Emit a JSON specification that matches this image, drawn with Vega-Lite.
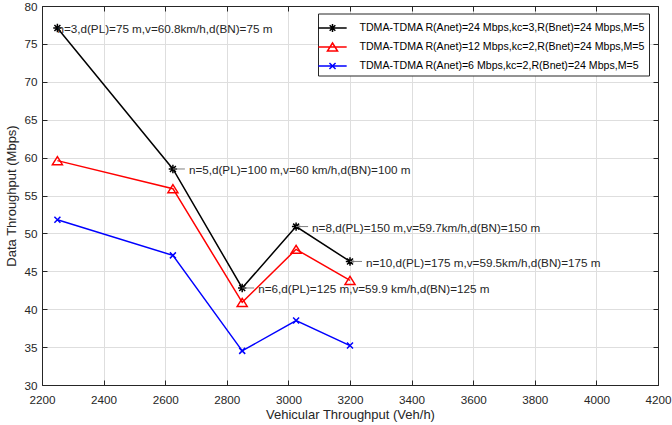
{
  "$schema": "https://vega.github.io/schema/vega-lite/v6.json",
  "width": 616,
  "height": 379,
  "autosize": {"type": "none"},
  "padding": {"left": 42, "top": 6, "right": 14, "bottom": 40},
  "background": "white",
  "config": {
    "font": "Liberation Sans",
    "view": {"stroke": "#262626", "strokeWidth": 1},
    "axis": {
      "labelFont": "Liberation Sans",
      "labelFontSize": 11.7,
      "labelColor": "#262626",
      "titleFont": "Liberation Sans",
      "titleFontSize": 13,
      "titleFontWeight": "normal",
      "titleColor": "#262626",
      "domainColor": "#262626",
      "tickColor": "#262626",
      "gridColor": "#dedede",
      "gridOpacity": 1,
      "tickSize": -5
    }
  },
  "datasets": {
    "series": [
      {"series": "TDMA-TDMA R(Anet)=24 Mbps,kc=3,R(Bnet)=24 Mbps,M=5", "x": 2250, "y": 77.1},
      {"series": "TDMA-TDMA R(Anet)=24 Mbps,kc=3,R(Bnet)=24 Mbps,M=5", "x": 2625, "y": 58.5},
      {"series": "TDMA-TDMA R(Anet)=24 Mbps,kc=3,R(Bnet)=24 Mbps,M=5", "x": 2850, "y": 42.8},
      {"series": "TDMA-TDMA R(Anet)=24 Mbps,kc=3,R(Bnet)=24 Mbps,M=5", "x": 3025, "y": 50.9},
      {"series": "TDMA-TDMA R(Anet)=24 Mbps,kc=3,R(Bnet)=24 Mbps,M=5", "x": 3200, "y": 46.3},
      {"series": "TDMA-TDMA R(Anet)=12 Mbps,kc=2,R(Bnet)=24 Mbps,M=5", "x": 2250, "y": 59.6},
      {"series": "TDMA-TDMA R(Anet)=12 Mbps,kc=2,R(Bnet)=24 Mbps,M=5", "x": 2625, "y": 55.9},
      {"series": "TDMA-TDMA R(Anet)=12 Mbps,kc=2,R(Bnet)=24 Mbps,M=5", "x": 2850, "y": 40.9},
      {"series": "TDMA-TDMA R(Anet)=12 Mbps,kc=2,R(Bnet)=24 Mbps,M=5", "x": 3025, "y": 47.9},
      {"series": "TDMA-TDMA R(Anet)=12 Mbps,kc=2,R(Bnet)=24 Mbps,M=5", "x": 3200, "y": 43.8},
      {"series": "TDMA-TDMA R(Anet)=6 Mbps,kc=2,R(Bnet)=24 Mbps,M=5", "x": 2250, "y": 51.8},
      {"series": "TDMA-TDMA R(Anet)=6 Mbps,kc=2,R(Bnet)=24 Mbps,M=5", "x": 2625, "y": 47.1},
      {"series": "TDMA-TDMA R(Anet)=6 Mbps,kc=2,R(Bnet)=24 Mbps,M=5", "x": 2850, "y": 34.5},
      {"series": "TDMA-TDMA R(Anet)=6 Mbps,kc=2,R(Bnet)=24 Mbps,M=5", "x": 3025, "y": 38.5},
      {"series": "TDMA-TDMA R(Anet)=6 Mbps,kc=2,R(Bnet)=24 Mbps,M=5", "x": 3200, "y": 35.2}
    ],
    "notes": [
      {"n": 3, "x": 2250, "y": 77.1, "label": "n=3,d(PL)=75 m,v=60.8km/h,d(BN)=75 m"},
      {"n": 5, "x": 2625, "y": 58.5, "label": "n=5,d(PL)=100 m,v=60 km/h,d(BN)=100 m"},
      {"n": 6, "x": 2850, "y": 42.8, "label": "n=6,d(PL)=125 m,v=59.9 km/h,d(BN)=125 m"},
      {"n": 8, "x": 3025, "y": 50.9, "label": "n=8,d(PL)=150 m,v=59.7km/h,d(BN)=150 m"},
      {"n": 10, "x": 3200, "y": 46.3, "label": "n=10,d(PL)=175 m,v=59.5km/h,d(BN)=175 m"}
    ]
  },
  "resolve": {"axis": {"x": "independent", "y": "independent"}},
  "layer": [
    {
      "data": {"name": "series"},
      "mark": {"type": "line", "strokeWidth": 1.5},
      "encoding": {
        "x": {
          "field": "x", "type": "quantitative",
          "scale": {"domain": [2200, 4200], "nice": false, "zero": false},
          "axis": {"orient": "bottom", "values": [2200, 2400, 2600, 2800, 3000, 3200, 3400, 3600, 3800, 4000, 4200], "format": "d", "title": "Vehicular Throughput (Veh/h)", "labelPadding": 14, "titlePadding": 3, "labelFlush": false}
        },
        "y": {
          "field": "y", "type": "quantitative",
          "scale": {"domain": [30, 80], "nice": false, "zero": false},
          "axis": {"orient": "left", "values": [30, 35, 40, 45, 50, 55, 60, 65, 70, 75, 80], "title": "Data Throughput (Mbps)", "labelPadding": 10, "titlePadding": 5, "labelFlush": false}
        },
        "color": {
          "field": "series", "type": "nominal",
          "scale": {
            "domain": ["TDMA-TDMA R(Anet)=24 Mbps,kc=3,R(Bnet)=24 Mbps,M=5", "TDMA-TDMA R(Anet)=12 Mbps,kc=2,R(Bnet)=24 Mbps,M=5", "TDMA-TDMA R(Anet)=6 Mbps,kc=2,R(Bnet)=24 Mbps,M=5"],
            "range": ["#000000", "#ff0000", "#0000ff"]
          },
          "legend": {
            "title": null,
            "orient": "none",
            "legendX": 276,
            "legendY": 7.5,
            "fillColor": "white",
            "strokeColor": "#262626",
            "padding": 3,
            "labelFont": "Liberation Sans",
            "labelFontSize": 10.6,
            "labelColor": "#000000",
            "labelLimit": 400,
            "labelOffset": 15.5,
            "symbolSize": 441,
            "symbolStrokeWidth": 1.5,
            "rowPadding": -15.5,
            "columnPadding": 0,
            "symbolType": "M-1,0L1,0",
            "encode": {
              "symbols": {
                "update": {
                  "shape": {"signal": "indexof(datum.value, 'R(Anet)=24') >= 0 ? 'M-1.35,0L1.35,0M-0.38,0L0.38,0M0,-0.38L0,0.38M-0.27,-0.27L0.27,0.27M-0.27,0.27L0.27,-0.27' : indexof(datum.value, 'R(Anet)=12') >= 0 ? 'M-1.35,0L1.35,0M0,-0.38L0.48,0.38L-0.48,0.38Z' : 'M-1.35,0L1.35,0M-0.29,-0.29L0.29,0.29M-0.29,0.29L0.29,-0.29'"},
                  "fill": {"value": "transparent"},
                  "strokeWidth": {"value": 1.5}
                }
              }
            }
          }
        }
      }
    },
    {
      "data": {"name": "series"},
      "transform": [{"filter": "indexof(datum.series, 'R(Anet)=24') >= 0"}],
      "mark": {"type": "point", "filled": false, "strokeWidth": 1.5, "opacity": 1, "size": 70, "shape": "M-1,0L1,0M0,-1L0,1M-0.71,-0.71L0.71,0.71M-0.71,0.71L0.71,-0.71"},
      "encoding": {
        "x": {
          "field": "x", "type": "quantitative",
          "axis": {"orient": "top", "values": [2200, 2400, 2600, 2800, 3000, 3200, 3400, 3600, 3800, 4000, 4200], "labels": false, "title": null, "grid": false}
        },
        "y": {
          "field": "y", "type": "quantitative",
          "axis": {"orient": "right", "values": [30, 35, 40, 45, 50, 55, 60, 65, 70, 75, 80], "labels": false, "title": null, "grid": false}
        },
        "color": {"field": "series", "type": "nominal"}
      }
    },
    {
      "data": {"name": "series"},
      "transform": [{"filter": "indexof(datum.series, 'R(Anet)=12') >= 0"}],
      "mark": {"type": "point", "filled": false, "strokeWidth": 1.5, "opacity": 1, "size": 100, "shape": "M0,-0.8L1,0.8L-1,0.8Z"},
      "encoding": {
        "x": {"field": "x", "type": "quantitative", "axis": null},
        "y": {"field": "y", "type": "quantitative", "axis": null},
        "color": {"field": "series", "type": "nominal"}
      }
    },
    {
      "data": {"name": "series"},
      "transform": [{"filter": "indexof(datum.series, 'R(Anet)=6 ') >= 0"}],
      "mark": {"type": "point", "filled": false, "strokeWidth": 1.5, "opacity": 1, "size": 36, "shape": "M-1,-1L1,1M-1,1L1,-1"},
      "encoding": {
        "x": {"field": "x", "type": "quantitative", "axis": null},
        "y": {"field": "y", "type": "quantitative", "axis": null},
        "color": {"field": "series", "type": "nominal"}
      }
    },
    {
      "data": {"name": "notes"},
      "transform": [{"filter": "datum.n != 3"}],
      "mark": {"type": "rule", "color": "#808080", "strokeWidth": 1, "x2Offset": 12},
      "encoding": {
        "x": {"field": "x", "type": "quantitative", "axis": null},
        "x2": {"field": "x"},
        "y": {"field": "y", "type": "quantitative", "axis": null}
      }
    },
    {
      "data": {"name": "notes"},
      "transform": [{"filter": "datum.n == 3"}],
      "mark": {"type": "text", "align": "left", "baseline": "middle", "dx": 0, "dy": 1.5, "fontSize": 11.7, "font": "Liberation Sans", "color": "#262626"},
      "encoding": {
        "x": {"field": "x", "type": "quantitative", "axis": null},
        "y": {"field": "y", "type": "quantitative", "axis": null},
        "text": {"field": "label"}
      }
    },
    {
      "data": {"name": "notes"},
      "transform": [{"filter": "datum.n != 3"}],
      "mark": {"type": "text", "align": "left", "baseline": "middle", "dx": 16, "dy": 1.5, "fontSize": 11.7, "font": "Liberation Sans", "color": "#262626"},
      "encoding": {
        "x": {"field": "x", "type": "quantitative", "axis": null},
        "y": {"field": "y", "type": "quantitative", "axis": null},
        "text": {"field": "label"}
      }
    }
  ]
}
